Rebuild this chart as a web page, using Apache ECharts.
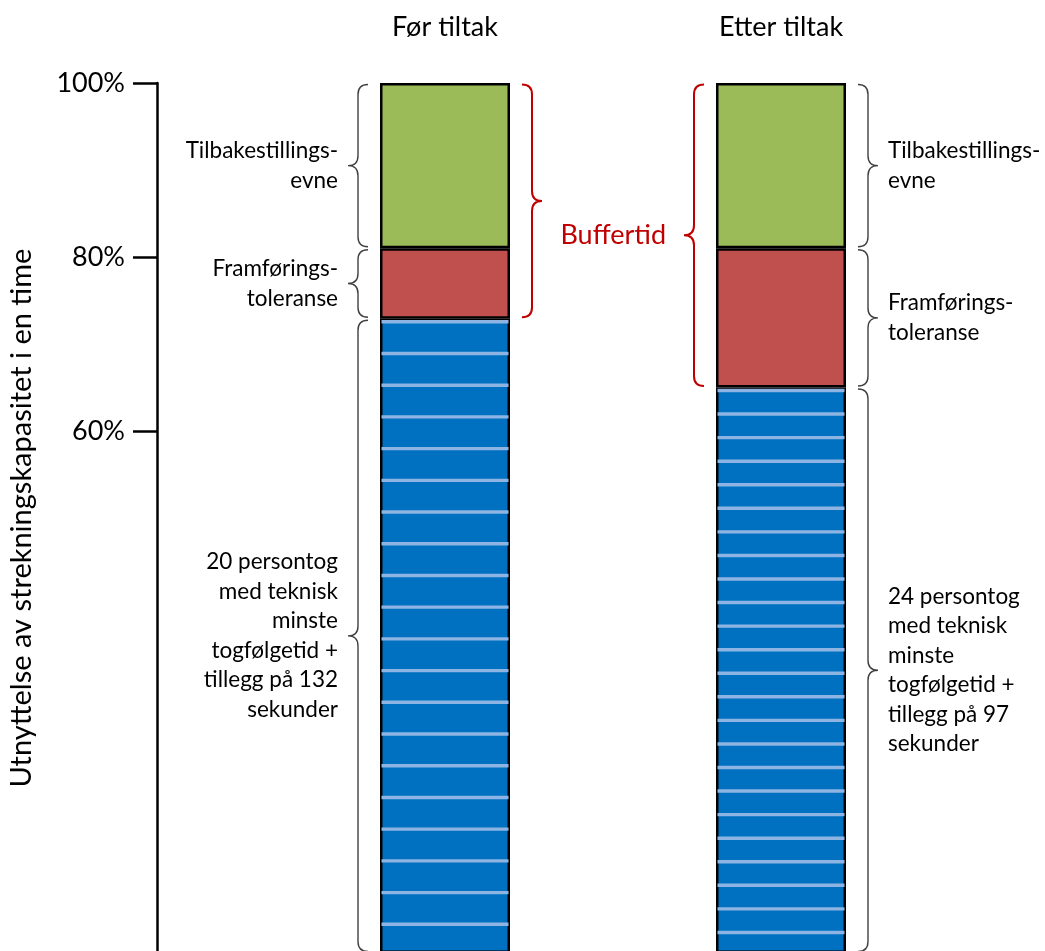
<!DOCTYPE html>
<html>
<head>
<meta charset="utf-8">
<script src="https://cdn.jsdelivr.net/npm/echarts@6/dist/echarts.min.js"></script>
<style>
  html, body { margin: 0; padding: 0; background: #ffffff; }
  #chart { width: 1045px; height: 951px; }
</style>
</head>
<body>
<div id="chart"></div>
<script>
// Share of the hourly line capacity (%), before and after the measure
const categories = ['Før tiltak', 'Etter tiltak'];
const trainShare = [72.9, 65.0];      // trains at minimum headway + supplement
const toleranceShare = [8.1, 16.0];   // framføringstoleranse
const recoveryShare = [19.0, 19.0];   // tilbakestillingsevne
const trainCount = [20, 24];          // one stripe-delimited block per train
const yTickValues = [60, 80, 100];

const recoveryLabel = 'Tilbakestillings-\nevne';
const toleranceLabel = 'Framførings-\ntoleranse';
const trainLabels = [
  '20 persontog\nmed teknisk\nminste\ntogfølgetid +\ntillegg på 132\nsekunder',
  '24 persontog\nmed teknisk\nminste\ntogfølgetid +\ntillegg på 97\nsekunder'
];
const bufferLabel = 'Buffertid';
const yAxisTitle = 'Utnyttelse av strekningskapasitet i en time';

const FONT = 'Lato, "Open Sans", sans-serif';
const BAR_W = 130;
const BIG = 27;
const SMALL = 22.5;

// Curly braces beside each bar; annotations go left of the first bar and right of the second
const braces = [];
categories.forEach((c, i) => {
  const t = trainShare[i];
  const r = t + toleranceShare[i];
  const g = r + recoveryShare[i];
  const side = i === 0 ? -1 : 1;
  const grey = { side: side, color: '#404040', width: 1.4, textColor: '#000', fontSize: SMALL, lineHeight: 29.5, gap: 10 };
  braces.push(Object.assign({ cat: i, lo: r, hi: g, text: recoveryLabel }, grey));
  braces.push(Object.assign({ cat: i, lo: t, hi: r, text: toleranceLabel }, grey));
  braces.push(Object.assign({ cat: i, lo: 0, hi: t, text: trainLabels[i] }, grey));
  braces.push({
    cat: i, lo: t, hi: g, side: -side, color: '#c00000', width: 2,
    text: i === 1 ? bufferLabel : '', textColor: '#c00000', fontSize: BIG, lineHeight: 32, gap: 18
  });
});

function renderBrace(params, api) {
  const b = braces[params.dataIndex];
  const top = api.coord([b.cat, b.hi]);
  const bot = api.coord([b.cat, b.lo]);
  const cx = top[0];
  const x0 = cx + b.side * (BAR_W / 2 + 12);
  const x1 = x0 + b.side * 10;
  const x2 = x0 + b.side * 20;
  const y1 = top[1] + 1.5;
  const y2 = bot[1] - 1.5;
  const ym = (y1 + y2) / 2;
  const r = Math.min(10, (y2 - y1) / 4);
  const d = 'M' + x0 + ',' + y1 +
    ' Q' + x1 + ',' + y1 + ' ' + x1 + ',' + (y1 + r) +
    ' L' + x1 + ',' + (ym - r) +
    ' Q' + x1 + ',' + ym + ' ' + x2 + ',' + ym +
    ' Q' + x1 + ',' + ym + ' ' + x1 + ',' + (ym + r) +
    ' L' + x1 + ',' + (y2 - r) +
    ' Q' + x1 + ',' + y2 + ' ' + x0 + ',' + y2;
  const children = [{
    type: 'path',
    shape: { pathData: d },
    style: { fill: null, stroke: b.color, lineWidth: b.width }
  }];
  if (b.text) {
    children.push({
      type: 'text',
      style: {
        text: b.text,
        x: x2 + b.side * b.gap,
        y: (top[1] + bot[1]) / 2,
        align: b.side < 0 ? 'right' : 'left',
        verticalAlign: 'middle',
        fill: b.textColor,
        fontSize: b.fontSize,
        fontFamily: FONT,
        lineHeight: b.lineHeight
      }
    });
  }
  return { type: 'group', children: children };
}

// Light stripes marking the start of each train's slot in the blue block
function renderStripes(params, api) {
  const cat = api.value(0);
  const top = api.coord([cat, api.value(1)]);
  const base = api.coord([cat, 0]);
  const n = api.value(2);
  const h = (base[1] - top[1]) / n;
  const children = [];
  for (let k = 0; k < n; k++) {
    children.push({
      type: 'rect',
      shape: { x: top[0] - BAR_W / 2 + 1.5, y: top[1] + k * h + 1.3, width: BAR_W - 3, height: 3.4 },
      style: { fill: '#8db4e2' }
    });
  }
  return { type: 'group', children: children };
}

const barBorder = { borderColor: '#000000', borderWidth: 2.5 };

const chart = echarts.init(document.getElementById('chart'), null, { renderer: 'canvas' });
chart.setOption({
  animation: false,
  backgroundColor: '#ffffff',
  grid: { left: 277, width: 672, top: 83, height: 870, outerBoundsMode: 'none', containLabel: false },
  xAxis: {
    type: 'category',
    position: 'top',
    data: categories,
    axisLine: { show: false },
    axisTick: { show: false },
    axisLabel: { margin: 42, fontSize: BIG, color: '#000', fontFamily: FONT }
  },
  yAxis: {
    type: 'value',
    min: 0,
    max: 100,
    interval: 20,
    offset: 120,
    axisLine: { show: true, lineStyle: { color: '#000', width: 2.5 } },
    axisTick: { show: true, inside: false, length: 24, customValues: yTickValues, lineStyle: { color: '#000', width: 2.5 } },
    axisLabel: {
      customValues: yTickValues,
      formatter: function (v) { return v + '%'; },
      margin: 32,
      fontSize: BIG,
      color: '#000',
      fontFamily: FONT
    },
    splitLine: { show: false },
    name: yAxisTitle,
    nameLocation: 'middle',
    nameGap: 121,
    nameTextStyle: { fontSize: 29, color: '#000', fontFamily: FONT }
  },
  series: [
    { type: 'bar', stack: 'cap', barWidth: BAR_W, data: trainShare, itemStyle: Object.assign({ color: '#0070c0' }, barBorder) },
    { type: 'bar', stack: 'cap', barWidth: BAR_W, data: toleranceShare, itemStyle: Object.assign({ color: '#c0504d' }, barBorder) },
    { type: 'bar', stack: 'cap', barWidth: BAR_W, data: recoveryShare, itemStyle: Object.assign({ color: '#9bbb59' }, barBorder) },
    {
      type: 'custom',
      renderItem: renderStripes,
      data: categories.map((c, i) => [i, trainShare[i], trainCount[i]]),
      z: 3
    },
    {
      type: 'custom',
      renderItem: renderBrace,
      data: braces.map(b => [b.cat, b.lo, b.hi]),
      z: 4
    }
  ]
});
</script>
</body>
</html>
